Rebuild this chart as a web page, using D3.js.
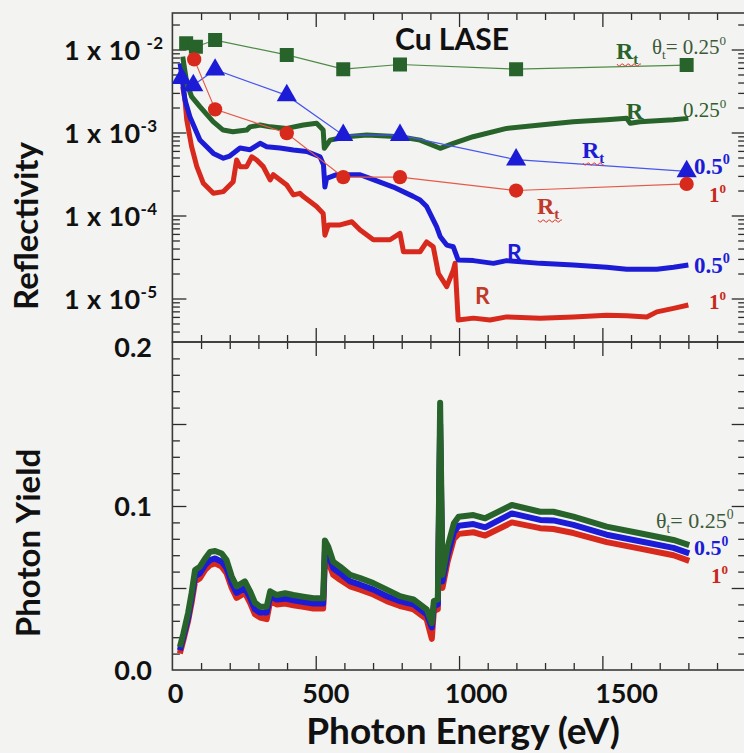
<!DOCTYPE html>
<html>
<head>
<meta charset="utf-8">
<script src="https://cdn.jsdelivr.net/npm/d3@7"></script>
<style>
    html, body { margin: 0; padding: 0; background: #f3f3f1; }
    svg { display: block; }
</style>
</head>
<body>
<script>
//
// TICK LABELS
const X_TICKS = [0, 500, 1000, 1500];
const R_TICKS = [1e-2, 1e-3, 1e-4, 1e-5];
const R_TICK_EXP = ['-2', '-3', '-4', '-5'];
const P_TICKS = [0.0, 0.1, 0.2];
//
// Rt (marker series), energy in eV
const RT_E_025 = [48, 82, 149, 399, 596, 794, 1199, 1794];
const RT_025 = [1.19e-2, 1.08e-2, 1.30e-2, 8.6e-3, 5.8e-3, 6.6e-3, 5.8e-3, 6.5e-3];
const RT_E_05 = [32, 73, 149, 399, 596, 794, 1199, 1794];
const RT_05 = [4.5e-3, 3.7e-3, 5.7e-3, 2.8e-3, 9.3e-4, 9.3e-4, 4.7e-4, 3.4e-4];
const RT_E_1 = [76, 149, 399, 596, 794, 1199, 1794];
const RT_1 = [7.6e-3, 1.9e-3, 9.8e-4, 2.9e-4, 2.9e-4, 2.0e-4, 2.4e-4];
//
// R (measured curves)
const R_E_025 = [36, 50, 67, 96, 142, 177, 211, 259, 271, 306, 341, 399, 457, 503, 526, 530, 550, 573, 608, 678, 794, 864, 934, 980, 1049, 1166, 1283, 1398, 1515, 1585, 1597, 1631, 1747, 1800];
const R_025 = [8.2e-3, 3.95e-3, 2.7e-3, 2.05e-3, 1.35e-3, 1.07e-3, 1.02e-3, 1.07e-3, 1.17e-3, 1.23e-3, 1.17e-3, 1.12e-3, 1.23e-3, 1.29e-3, 1.07e-3, 6.45e-4, 8.1e-4, 8.4e-4, 8.9e-4, 9.3e-4, 8.9e-4, 8.1e-4, 6.45e-4, 7.4e-4, 8.9e-4, 1.12e-3, 1.23e-3, 1.35e-3, 1.42e-3, 1.48e-3, 1.29e-3, 1.35e-3, 1.42e-3, 1.48e-3];
const R_E_05 = [27, 44, 61, 96, 143, 178, 200, 236, 271, 306, 329, 375, 422, 469, 515, 527, 532, 538, 573, 655, 701, 771, 840, 864, 887, 922, 934, 957, 980, 997, 1050, 1120, 1166, 1283, 1399, 1515, 1585, 1690, 1748, 1800];
const R_05 = [6.8e-3, 2.46e-3, 1.55e-3, 8.1e-4, 5.6e-4, 4.9e-4, 5.2e-4, 6.5e-4, 6.2e-4, 7.4e-4, 6.75e-4, 6.5e-4, 6.15e-4, 5.9e-4, 5.1e-4, 4.1e-4, 2.2e-4, 2.8e-4, 3.1e-4, 3.1e-4, 2.7e-4, 2.2e-4, 1.7e-4, 1.54e-4, 1.28e-4, 7.3e-5, 5.6e-5, 4.4e-5, 4.2e-5, 2.9e-5, 2.86e-5, 2.65e-5, 2.86e-5, 2.65e-5, 2.53e-5, 2.38e-5, 2.25e-5, 2.25e-5, 2.38e-5, 2.53e-5];
const R_E_1 = [36, 44, 50, 67, 85, 108, 143, 178, 212, 224, 236, 259, 277, 294, 317, 341, 352, 399, 422, 445, 457, 503, 526, 532, 544, 585, 626, 655, 701, 759, 794, 806, 864, 887, 910, 928, 957, 980, 986, 997, 1050, 1108, 1166, 1283, 1399, 1515, 1585, 1655, 1690, 1748, 1800];
const R_1 = [3.56e-3, 2.46e-3, 1.42e-3, 6.75e-4, 3.9e-4, 2.44e-4, 1.85e-4, 1.94e-4, 2.55e-4, 4.66e-4, 3.88e-4, 3.88e-4, 5.1e-4, 4.66e-4, 3.88e-4, 2.68e-4, 3.1e-4, 2.33e-4, 1.77e-4, 1.85e-4, 1.69e-4, 1.28e-4, 1.06e-4, 5.8e-5, 7.7e-5, 7.7e-5, 8.4e-5, 6.7e-5, 5.1e-5, 5.1e-5, 6.1e-5, 3.66e-5, 3.66e-5, 4.8e-5, 4.2e-5, 2.0e-5, 1.39e-5, 2.2e-5, 2.65e-5, 5.5e-6, 5.8e-6, 5.5e-6, 6.0e-6, 5.8e-6, 6.0e-6, 6.3e-6, 6.2e-6, 6.0e-6, 6.9e-6, 7.6e-6, 8.35e-6];
//
// PHOTON YIELD
const PY_E = [26, 38, 55, 67, 79, 96, 114, 131, 149, 172, 189, 207, 224, 253, 271, 288, 306, 329, 341, 364, 393, 422, 457, 492, 526, 532, 544, 561, 585, 620, 655, 701, 748, 794, 817, 841, 887, 905, 912, 926, 934, 942, 960, 982, 999, 1050, 1091, 1184, 1283, 1329, 1399, 1515, 1631, 1748, 1803];
const PY_025 = [0.014, 0.022, 0.035, 0.047, 0.061, 0.063, 0.068, 0.072, 0.0726, 0.071, 0.067, 0.057, 0.051, 0.054, 0.048, 0.041, 0.0386, 0.0386, 0.048, 0.0457, 0.0468, 0.0457, 0.0447, 0.0437, 0.0437, 0.079, 0.075, 0.066, 0.063, 0.058, 0.056, 0.053, 0.049, 0.045, 0.044, 0.043, 0.037, 0.0285, 0.042, 0.043, 0.163, 0.058, 0.075, 0.0895, 0.0935, 0.0945, 0.0925, 0.1006, 0.0965, 0.0965, 0.0935, 0.0874, 0.0834, 0.0793, 0.0762];
const PY_05 = [0.012, 0.020, 0.032, 0.044, 0.057, 0.059, 0.064, 0.067, 0.068, 0.066, 0.062, 0.053, 0.047, 0.050, 0.044, 0.037, 0.035, 0.035, 0.045, 0.043, 0.0435, 0.0425, 0.0415, 0.0405, 0.0405, 0.072, 0.070, 0.062, 0.059, 0.054, 0.052, 0.049, 0.045, 0.042, 0.041, 0.040, 0.034, 0.026, 0.039, 0.040, 0.150, 0.054, 0.070, 0.084, 0.088, 0.089, 0.087, 0.0955, 0.0915, 0.0912, 0.0885, 0.0825, 0.0785, 0.0745, 0.0711];
const PY_1 = [0.010, 0.018, 0.030, 0.041, 0.054, 0.056, 0.061, 0.064, 0.065, 0.063, 0.059, 0.050, 0.044, 0.047, 0.041, 0.034, 0.032, 0.031, 0.042, 0.040, 0.0405, 0.0395, 0.0385, 0.0375, 0.0375, 0.067, 0.066, 0.058, 0.055, 0.051, 0.049, 0.046, 0.042, 0.039, 0.038, 0.037, 0.031, 0.019, 0.036, 0.037, 0.140, 0.050, 0.066, 0.080, 0.083, 0.084, 0.082, 0.090, 0.0865, 0.086, 0.0835, 0.078, 0.074, 0.070, 0.0665];

window.addEventListener( 'load', function () {
    //
    // SIZES AND COLOURS
    const WIDTH = 744;
    const HEIGHT = 753;
    const PLOT_LEFT = 172.4;
    const PLOT_RIGHT = 745.7;
    const TOP_Y = 13;
    const MID_Y = 342;
    const BOT_Y = 670;
    const GREEN = '#27632a';
    const BLUE = '#1c1cd6';
    const RED = '#d8291d';
    const SANS = 'Lato, "Open Sans", sans-serif';
    const SERIF = '"Liberation Serif", "DejaVu Serif", serif';
    const AXIS = '#2b2b2b';

    let svg = d3.select( 'body' ).append( 'svg' )
        .attr( 'width', WIDTH )
        .attr( 'height', HEIGHT );
    svg.append( 'rect' ).attr( 'width', WIDTH ).attr( 'height', HEIGHT ).attr( 'fill', '#f3f3f1' );
    //
    // SCALES
    const x = d3.scaleLinear().domain( [0, 2000] ).range( [PLOT_LEFT, PLOT_RIGHT] );
    // the tick labels of the original sit on a slightly wider spacing than the ticks
    const xLabel = d3.scaleLinear().domain( [0, 1500] ).range( [175.5, 626.5] );
    const yR = d3.scaleLog().domain( [1e-5, 1e-2] ).range( [298.5, 49.5] );
    const yP = d3.scaleLinear().domain( [0, 0.2] ).range( [BOT_Y, MID_Y] );
    //
    // CLIP PATHS
    let defs = svg.append( 'defs' );
    defs.append( 'clipPath' ).attr( 'id', 'clipTop' ).append( 'rect' )
        .attr( 'x', PLOT_LEFT ).attr( 'y', TOP_Y )
        .attr( 'width', PLOT_RIGHT - PLOT_LEFT ).attr( 'height', MID_Y - TOP_Y );
    defs.append( 'clipPath' ).attr( 'id', 'clipBot' ).append( 'rect' )
        .attr( 'x', PLOT_LEFT ).attr( 'y', MID_Y )
        .attr( 'width', PLOT_RIGHT - PLOT_LEFT ).attr( 'height', BOT_Y - MID_Y );
    //
    // X TICKS (both panels, all four edges, pointing inward)
    const X_MINOR = d3.range( 100, 2000, 100 );
    function xTicks( yPos, down ) {
        let axis = ( down ? d3.axisBottom( x ) : d3.axisTop( x ) )
            .tickValues( X_MINOR ).tickFormat( '' ).tickSizeOuter( 0 );
        let g = svg.append( 'g' ).attr( 'transform', 'translate(0,' + yPos + ')' ).call( axis );
        g.select( '.domain' ).remove();
        g.selectAll( '.tick line' )
            .attr( 'y2', d => ( d % 500 === 0 ? 14 : 7 ) * ( down ? 1 : -1 ) )
            .attr( 'stroke', AXIS ).attr( 'stroke-width', 1.3 );
    }
    xTicks( TOP_Y, true );
    xTicks( MID_Y, false );
    xTicks( MID_Y, true );
    xTicks( BOT_Y, false );
    //
    // Y TICKS
    let rMinor = [];
    for ( let e = -6; e <= -2; e++ ) {
        for ( let k = 2; k <= 9; k++ ) {
            let v = k * Math.pow( 10, e );
            if ( yR( v ) > TOP_Y + 2 && yR( v ) < MID_Y - 2 ) rMinor.push( v );
        }
    }
    const P_MINOR = d3.range( 1, 20 ).map( i => i / 100 );
    function yTicks( scale, values, isMajor ) {
        [[PLOT_LEFT, 1], [PLOT_RIGHT, -1]].forEach( function ( side ) {
            let axis = ( side[1] > 0 ? d3.axisRight( scale ) : d3.axisLeft( scale ) )
                .tickValues( values ).tickFormat( '' ).tickSizeOuter( 0 );
            let g = svg.append( 'g' ).attr( 'transform', 'translate(' + side[0] + ',0)' ).call( axis );
            g.select( '.domain' ).remove();
            g.selectAll( '.tick line' )
                .attr( 'x2', d => ( isMajor( d ) ? 14 : 7.5 ) * side[1] )
                .attr( 'stroke', AXIS ).attr( 'stroke-width', 1.3 );
        });
    }
    yTicks( yR, R_TICKS.concat( rMinor ), d => R_TICKS.indexOf( d ) >= 0 );
    yTicks( yP, P_MINOR, d => Math.round( d * 100 ) % 5 === 0 );
    //
    // FRAMES
    [[TOP_Y, MID_Y], [MID_Y, BOT_Y]].forEach( function ( p ) {
        svg.append( 'rect' )
            .attr( 'x', PLOT_LEFT ).attr( 'y', p[0] )
            .attr( 'width', PLOT_RIGHT - PLOT_LEFT ).attr( 'height', p[1] - p[0] )
            .attr( 'fill', 'none' ).attr( 'stroke', '#3a3a3a' ).attr( 'stroke-width', 1.6 );
    });
    //
    // TICK LABELS
    svg.append( 'g' ).selectAll( 'text' )
        .data( X_TICKS ).enter().append( 'text' )
        .attr( 'x', d => xLabel( d ) ).attr( 'y', 703 )
        .attr( 'text-anchor', 'middle' )
        .style( 'font', 'bold 27px ' + SANS ).attr( 'fill', '#111' )
        .text( d => d );
    svg.append( 'g' ).selectAll( 'text' )
        .data( P_TICKS ).enter().append( 'text' )
        .attr( 'x', 152 ).attr( 'y', d => yP( d ) + 9.5 + ( d === 0.2 ? 5 : 0 ) )
        .attr( 'text-anchor', 'end' )
        .style( 'font', 'bold 27px ' + SANS ).attr( 'fill', '#111' )
        .text( d => d.toFixed( 1 ) );
    let rLab = svg.append( 'g' ).selectAll( 'text' )
        .data( R_TICKS ).enter().append( 'text' )
        .attr( 'x', 64 ).attr( 'y', d => yR( d ) + 10 )
        .style( 'font', 'bold 27px ' + SANS ).attr( 'fill', '#111' )
        .attr( 'letter-spacing', 0.4 );
    rLab.append( 'tspan' ).text( '1 x 10' );
    rLab.append( 'tspan' )
        .attr( 'dx', ( d, i ) => i === 0 ? 6 : 0 ).attr( 'dy', -11 )
        .style( 'font-size', '17px' )
        .text( ( d, i ) => R_TICK_EXP[i] );
    //
    // AXIS TITLES
    svg.append( 'text' )
        .attr( 'transform', 'translate(38,226) rotate(-90)' )
        .attr( 'text-anchor', 'middle' )
        .style( 'font', 'bold 33px ' + SANS ).attr( 'fill', '#111' )
        .text( 'Reflectivity' );
    svg.append( 'text' )
        .attr( 'transform', 'translate(40,543) rotate(-90)' )
        .attr( 'text-anchor', 'middle' )
        .style( 'font', 'bold 33px ' + SANS ).attr( 'fill', '#111' )
        .text( 'Photon Yield' );
    svg.append( 'text' )
        .attr( 'x', 463 ).attr( 'y', 744 )
        .attr( 'text-anchor', 'middle' )
        .style( 'font', 'bold 37px ' + SANS ).attr( 'fill', '#111' )
        .text( 'Photon Energy (eV)' );
    svg.append( 'text' )
        .attr( 'x', 452 ).attr( 'y', 50 )
        .attr( 'text-anchor', 'middle' )
        .style( 'font', 'bold 30px ' + SANS ).attr( 'fill', '#111' )
        .text( 'Cu LASE' );
    //
    // REFLECTIVITY CURVES
    const zip = ( a, b ) => a.map( ( v, i ) => [v, b[i]] );
    let lineR = d3.line().x( d => x( d[0] ) ).y( d => yR( d[1] ) );
    let top = svg.append( 'g' ).attr( 'clip-path', 'url(#clipTop)' );
    [[R_E_1, R_1, RED], [R_E_05, R_05, BLUE], [R_E_025, R_025, GREEN]].forEach( function ( s ) {
        top.append( 'path' )
            .datum( zip( s[0], s[1] ) )
            .attr( 'd', lineR )
            .attr( 'fill', 'none' ).attr( 'stroke', s[2] )
            .attr( 'stroke-width', 5 ).attr( 'stroke-linejoin', 'round' );
    });
    //
    // Rt LINES AND MARKERS
    const RT = [
        { e: RT_E_025, v: RT_025, c: GREEN, lc: '#4e8b46', sym: d3.symbolSquare, size: 196 },
        { e: RT_E_05, v: RT_05, c: BLUE, lc: '#4656ee', sym: d3.symbolTriangle, size: 175 },
        { e: RT_E_1, v: RT_1, c: RED, lc: '#e55a49', sym: d3.symbolCircle, size: 160 }
    ];
    RT.forEach( function ( s ) {
        let pts = zip( s.e, s.v );
        top.append( 'path' )
            .datum( pts )
            .attr( 'd', lineR )
            .attr( 'fill', 'none' ).attr( 'stroke', s.lc ).attr( 'stroke-width', 1.2 );
        top.selectAll( null )
            .data( pts ).enter().append( 'path' )
            .attr( 'transform', d => 'translate(' + x( d[0] ) + ',' + yR( d[1] ) + ')' )
            .attr( 'd', d3.symbol().type( s.sym ).size( s.size ) )
            .attr( 'fill', s.c );
    });
    //
    // PHOTON YIELD CURVES
    let lineP = d3.line().x( d => x( d[0] ) ).y( d => yP( d[1] ) );
    let bot = svg.append( 'g' ).attr( 'clip-path', 'url(#clipBot)' );
    [[PY_1, RED], [PY_05, BLUE], [PY_025, GREEN]].forEach( function ( s ) {
        bot.append( 'path' )
            .datum( zip( PY_E, s[0] ) )
            .attr( 'd', lineP )
            .attr( 'fill', 'none' ).attr( 'stroke', s[1] )
            .attr( 'stroke-width', 6 ).attr( 'stroke-linejoin', 'round' );
    });
    //
    // ANNOTATIONS
    function note( xPos, yPos, parts, colour, size, weight, family ) {
        let t = svg.append( 'text' )
            .attr( 'x', xPos ).attr( 'y', yPos )
            .style( 'font-family', family || SERIF )
            .style( 'font-size', size + 'px' )
            .style( 'font-weight', weight || 'normal' )
            .attr( 'fill', colour );
        parts.forEach( function ( p ) {
            let sp = t.append( 'tspan' ).text( p[0] );
            if ( p[1] === 'sub' ) sp.attr( 'dy', size * 0.22 ).style( 'font-size', ( size * 0.62 ) + 'px' );
            if ( p[1] === 'sup' ) sp.attr( 'dy', -size * 0.42 ).style( 'font-size', ( size * 0.62 ) + 'px' );
            if ( p[1] === 'back' ) sp.attr( 'dy', -size * 0.22 );
        });
        return t;
    }
    function squiggle( x0, y0, w ) {
        let d = 'M' + x0 + ',' + y0;
        for ( let i = 0; i < w / 3; i++ ) d += ' l1.5,' + ( i % 2 ? -2 : 2 ) + ' l1.5,0';
        svg.append( 'path' ).attr( 'd', d ).attr( 'fill', 'none' )
            .attr( 'stroke', '#e0463c' ).attr( 'stroke-width', 1 );
    }
    const THETA = '#3c5a3a';
    // top panel
    note( 616, 59, [['R'], ['t', 'sub']], GREEN, 24, 'bold' );
    squiggle( 617, 64, 22 );
    note( 652, 54, [['θ'], ['t', 'sub'], ['= 0.25', 'back'], ['0', 'sup']], THETA, 21 );
    note( 626, 119, [['R']], GREEN, 24, 'bold' );
    note( 683, 117, [['0.25'], ['0', 'sup']], '#2f5d2c', 21 );
    note( 582, 158, [['R'], ['t', 'sub']], BLUE, 24, 'bold' );
    squiggle( 583, 163, 20 );
    note( 694, 174, [['0.5'], ['0', 'sup']], BLUE, 23, 'bold' );
    note( 709, 202, [['1'], ['0', 'sup']], '#c8281c', 21, 'bold' );
    note( 537, 214, [['R'], ['t', 'sub']], '#c0392b', 24, 'bold' );
    squiggle( 538, 220, 22 );
    note( 507, 261, [['R']], BLUE, 23, 'bold', SANS );
    note( 694, 273, [['0.5'], ['0', 'sup']], BLUE, 23, 'bold' );
    note( 475, 304, [['R']], '#c0392b', 23, 'bold', SANS );
    note( 709, 309, [['1'], ['0', 'sup']], '#c8281c', 21, 'bold' );
    // bottom panel
    note( 656, 528, [['θ'], ['t', 'sub'], ['= 0.25', 'back'], ['0', 'sup']], THETA, 22 );
    note( 694, 555, [['0.5'], ['0', 'sup']], BLUE, 22, 'bold' );
    note( 711, 583, [['1'], ['0', 'sup']], '#c8281c', 21, 'bold' );
}, false );
</script>
</body>
</html>
